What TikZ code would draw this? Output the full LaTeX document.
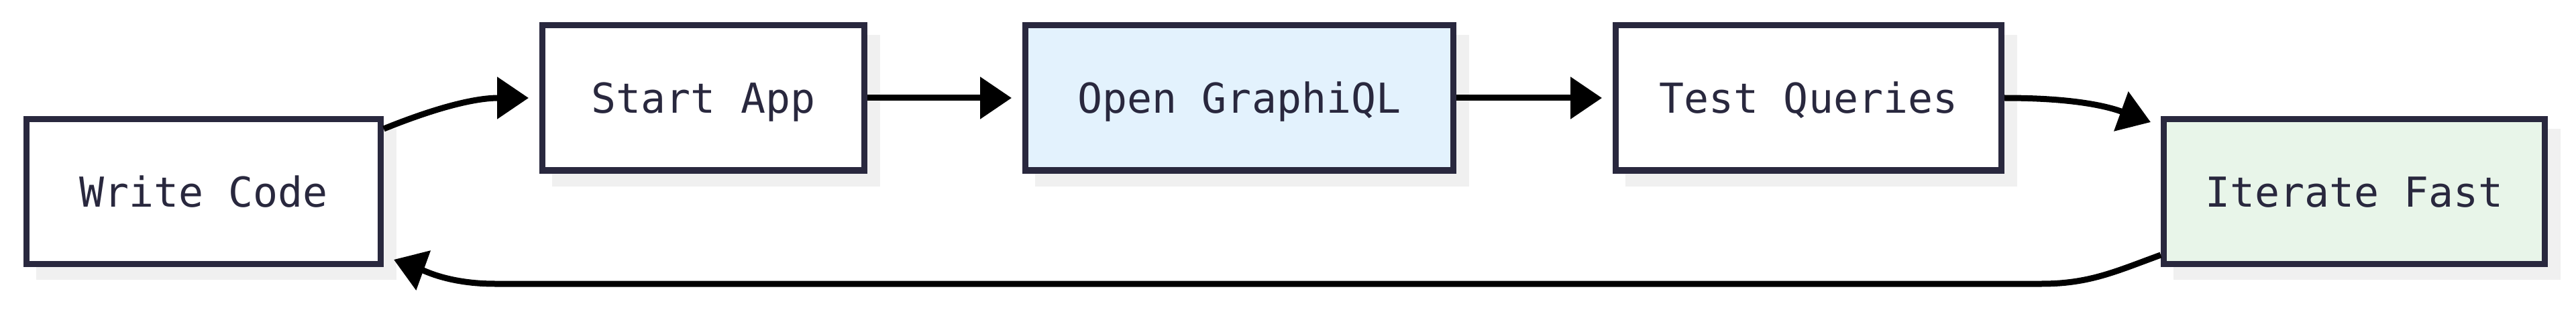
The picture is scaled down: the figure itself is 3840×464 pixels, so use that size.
\documentclass[tikz,border=0pt]{standalone}
\usepackage{fontspec}
\setmonofont{DejaVu Sans Mono}
\usetikzlibrary{arrows.meta,shadows}
\definecolor{boxline}{RGB}{41,40,62}
\definecolor{gqlblue}{HTML}{E3F2FD}
\definecolor{fastgreen}{HTML}{E8F5E9}
\definecolor{shadowgray}{HTML}{F0F0F0}
\begin{document}
\begin{tikzpicture}[x=1pt,y=1pt,
  stepnode/.style={draw=boxline, line width=9pt, fill=white, text=boxline,
    font=\ttfamily\fontsize{61.5}{74}\selectfont, text height=45pt, text depth=0pt,
    inner sep=0pt, minimum height=216pt,
    drop shadow={shadow xshift=19pt, shadow yshift=-19pt, fill=shadowgray, draw=shadowgray, opacity=1}},
  flow/.style={line width=9pt, -{Triangle[length=47pt,width=61pt]}, shorten >=16pt}]
\useasboundingbox (0,0) rectangle (3840,464);
\node[stepnode, minimum width=528pt] (sid0) at (303.5,178.5){Write Code};
\node[stepnode, minimum width=480pt] (sid1) at (1048.5,318){Start App};
\node[stepnode, minimum width=638pt, fill=gqlblue] (sid2) at (1847.5,318){Open GraphiQL};
\node[stepnode, minimum width=575pt] (sid3) at (2696,318){Test Queries};
\node[stepnode, minimum width=568pt, fill=fastgreen] (sid4) at (3509.5,178.5){Iterate Fast};
\coordinate (lpR) at (3043,41);
\coordinate (lpL) at (738,41);
\draw[flow] ([yshift=-19pt]sid0.north east) to[out=22,in=180] (sid1.west);
\draw[flow] (sid1) -- (sid2);
\draw[flow] (sid2) -- (sid3);
\draw[flow] (sid3.east) to[out=0,in=160] ([yshift=-14.5pt]sid4.north west);
\draw[flow] ([yshift=18pt]sid4.south west) to[out=200,in=0] (lpR) -- (lpL) to[out=180,in=-20] ([yshift=16.5pt]sid0.south east);
\end{tikzpicture}
\end{document}
